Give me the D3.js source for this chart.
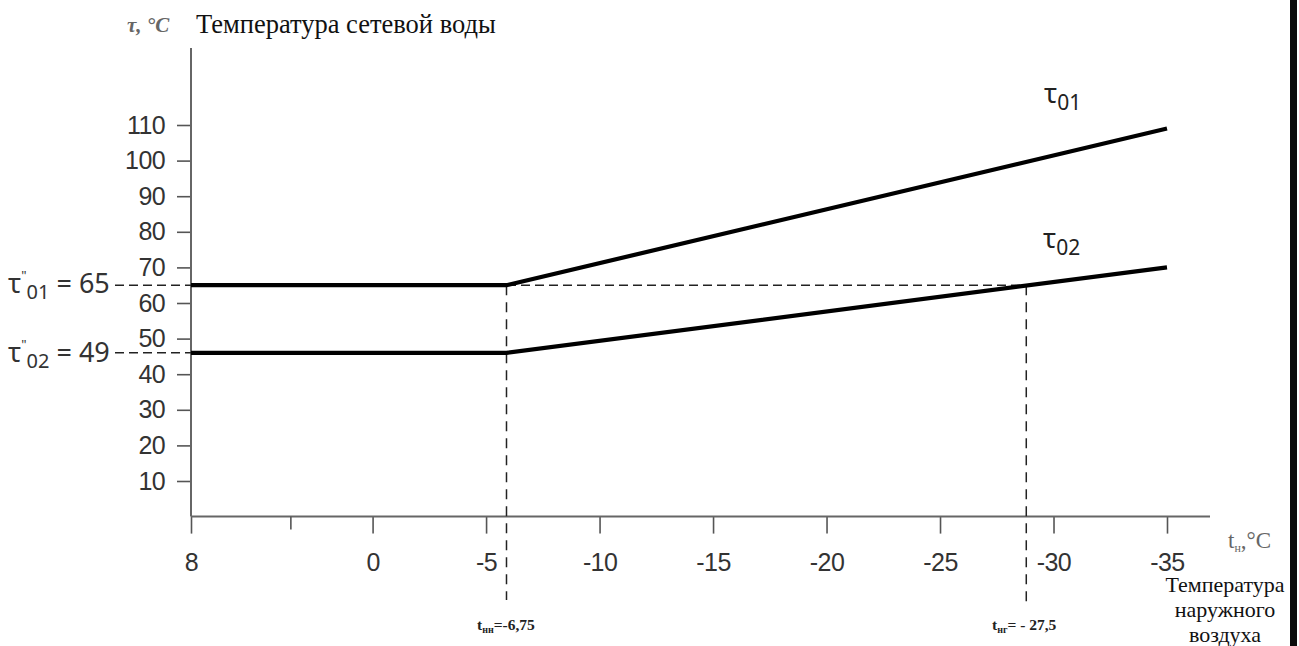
<!DOCTYPE html>
<html><head><meta charset="utf-8">
<script src="https://cdn.jsdelivr.net/npm/d3@7"></script>
<style>
html,body{margin:0;padding:0;background:#fff;overflow:hidden;}
svg{display:block;}
</style></head>
<body>
<svg id="c" width="1299" height="646"></svg>
<script>
// Data
const tOuter = [8, -5.9, -35];          // outdoor temperature break points
const tau01 = [65, 65, 109];            // supply water temperature
const tau02 = [46, 46, 70];             // return water temperature
const xTickValues = [8, 0, -5, -10, -15, -20, -25, -30, -35];
const xMinorTicks = [3.6];
const yTickValues = [10, 20, 30, 40, 50, 60, 70, 80, 90, 100, 110];
const tBreak = -5.9;    // t_нн marker position
const tBreak2 = -28.8;  // t_нг marker position
const tauMark1 = 65;
const tauMark2 = 46;

const svg = d3.select("#c");
const x = d3.scaleLinear().domain([8, -35]).range([191, 1167]);
const y = d3.scaleLinear().domain([0, 110]).range([516.6, 125]);
const numFont = "'Liberation Sans Narrow','Arial Narrow','Liberation Sans',sans-serif";
const serif = "'Liberation Serif','Times New Roman',serif";
const calib = "'Noto Sans','DejaVu Sans',sans-serif";

// right border bar
svg.append("rect").attr("x", 1290).attr("y", 0).attr("width", 7).attr("height", 646).attr("fill", "#0b0b0b");

// Y axis
const yAxis = svg.append("g").attr("transform", `translate(${x(8)},0)`)
  .call(d3.axisLeft(y).tickValues(yTickValues).tickSize(14).tickPadding(12).tickSizeOuter(0));
yAxis.select(".domain").remove();
yAxis.append("line").attr("x1", 0).attr("x2", 0).attr("y1", 48).attr("y2", y(0))
  .attr("stroke", "#666").attr("stroke-width", 2);
yAxis.selectAll(".tick line").attr("stroke", "#555").attr("stroke-width", 1.6);
yAxis.selectAll(".tick text").attr("fill", "#333").style("font-family", numFont).style("font-size", "25px")
  .style("letter-spacing", "-0.6px");

// X axis
const xAxis = svg.append("g").attr("transform", `translate(0,${y(0)})`)
  .call(d3.axisBottom(x).tickValues(xTickValues).tickSize(17).tickPadding(20).tickFormat(d3.format("d")).tickSizeOuter(0));
xAxis.select(".domain").remove();
xAxis.append("line").attr("x1", x(8)).attr("x2", 1210).attr("y1", 0).attr("y2", 0)
  .attr("stroke", "#666").attr("stroke-width", 2);
xAxis.selectAll(".tick line").attr("stroke", "#555").attr("stroke-width", 1.6);
xAxis.selectAll(".tick text").attr("fill", "#333").style("font-family", numFont).style("font-size", "25px")
  .style("letter-spacing", "-0.6px")
  .text(d => d < 0 ? "-" + Math.abs(d) : String(d));
svg.append("g").selectAll("line").data(xMinorTicks).join("line")
  .attr("x1", d => x(d)).attr("x2", d => x(d)).attr("y1", y(0)).attr("y2", y(0) + 13)
  .attr("stroke", "#555").attr("stroke-width", 1.6);

// dashed guides
const dashG = svg.append("g").attr("stroke", "#222").attr("stroke-width", 1.5).attr("fill", "none");
dashG.append("line").attr("x1", 115).attr("x2", x(tBreak2)).attr("y1", y(tauMark1)).attr("y2", y(tauMark1)).attr("stroke-dasharray", "9,5");
dashG.append("line").attr("x1", 115).attr("x2", x(tBreak)).attr("y1", y(tauMark2)).attr("y2", y(tauMark2)).attr("stroke-dasharray", "9,5");
dashG.append("line").attr("x1", x(tBreak)).attr("x2", x(tBreak)).attr("y1", y(tauMark1)).attr("y2", 600).attr("stroke-dasharray", "10,7");
dashG.append("line").attr("x1", x(tBreak2)).attr("x2", x(tBreak2)).attr("y1", y(tauMark1)).attr("y2", 605).attr("stroke-dasharray", "10,7");

// data lines
const line = d3.line().x(d => x(d[0])).y(d => y(d[1]));
[tau01, tau02].forEach(s => {
  svg.append("path").datum(tOuter.map((t, i) => [t, s[i]]))
    .attr("d", line).attr("fill", "none").attr("stroke", "#000").attr("stroke-width", 4.2)
    .attr("stroke-linejoin", "miter");
});

// series labels
function tauLabel(xp, yp, sub) {
  const t = svg.append("text").attr("x", xp).attr("y", yp).style("font-family", calib).style("font-size", "27px").attr("fill", "#222");
  t.append("tspan").text("τ");
  t.append("tspan").attr("dy", 7).style("font-size", "21px").text(sub);
}
tauLabel(1044, 103, "01");
tauLabel(1043, 248, "02");

// left annotations
function leftLabel(yp, sub, val) {
  const t = svg.append("text").attr("x", 8).attr("y", yp).style("font-family", calib).style("font-size", "27px").attr("fill", "#333");
  t.append("tspan").text("τ");
  t.append("tspan").attr("dy", -13).style("font-size", "13px").text("\"");
  t.append("tspan").attr("dy", 19).style("font-size", "20px").text(sub);
  t.append("tspan").attr("dy", -6).text(" = " + val);
}
leftLabel(293, "01", 65);
leftLabel(362, "02", 49);

// title
svg.append("text").attr("x", 127).attr("y", 32).style("font-family", serif).style("font-size", "21px")
  .style("font-style", "italic").style("font-weight", "bold").attr("fill", "#666").text("τ, °C");
svg.append("text").attr("x", 196).attr("y", 33).style("font-family", serif).style("font-size", "26.5px")
  .attr("fill", "#111").text("Температура сетевой воды");

// x axis unit
const tu = svg.append("text").attr("x", 1228).attr("y", 548).style("font-family", serif).style("font-size", "23px").attr("fill", "#666");
tu.append("tspan").text("t");
tu.append("tspan").attr("dy", 4).style("font-size", "12px").text("н");
tu.append("tspan").attr("dy", -4).text(",°C");

// bottom markers
function markLabel(xp, sub, rest) {
  const t = svg.append("text").attr("x", xp).attr("y", 630).style("font-family", serif).style("font-size", "15.5px")
    .style("font-weight", "bold").attr("fill", "#222");
  t.append("tspan").text("t");
  t.append("tspan").attr("dy", 3).style("font-size", "10px").text(sub);
  t.append("tspan").attr("dy", -3).text(rest);
}
markLabel(477, "нн", "=-6,75");
markLabel(992, "нг", "= - 27,5");

// outdoor label
const ol = svg.append("text").attr("text-anchor", "middle").style("font-family", serif).style("font-size", "22px").attr("fill", "#111");
["Температура", "наружного", "воздуха"].forEach((s, i) => {
  ol.append("tspan").attr("x", 1225).attr("y", 592 + i * 25).text(s);
});
</script>
</body></html>
